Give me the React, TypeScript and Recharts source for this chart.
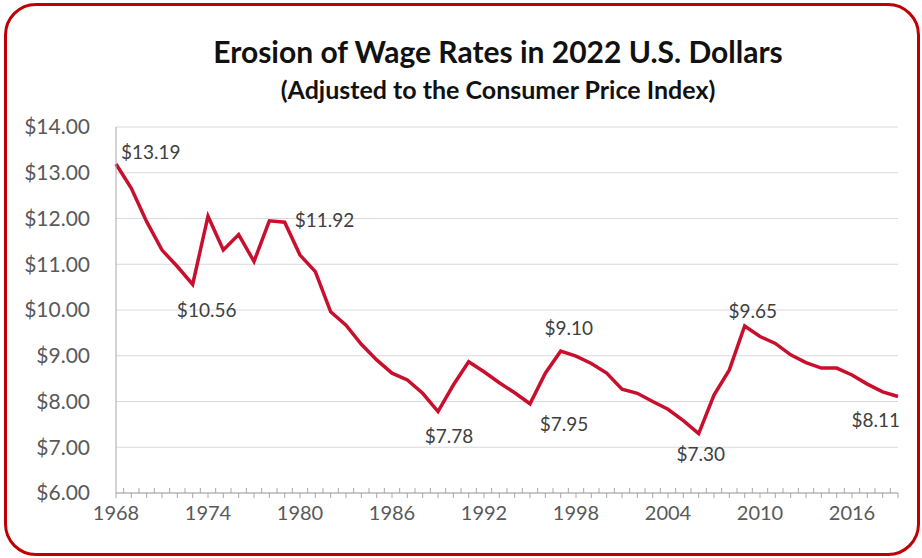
import React from 'react';
import { LineChart, Line, XAxis, YAxis, CartesianGrid, LabelList } from 'recharts';

const years = [
  1968, 1969, 1970, 1971, 1972, 1973, 1974, 1975, 1976, 1977,
  1978, 1979, 1980, 1981, 1982, 1983, 1984, 1985, 1986, 1987,
  1988, 1989, 1990, 1991, 1992, 1993, 1994, 1995, 1996, 1997,
  1998, 1999, 2000, 2001, 2002, 2003, 2004, 2005, 2006, 2007,
  2008, 2009, 2010, 2011, 2012, 2013, 2014, 2015, 2016, 2017,
  2018, 2019,
];

const wages = [
  13.19, 12.66, 11.93, 11.31, 10.95, 10.56, 12.05, 11.31, 11.65, 11.06,
  11.95, 11.92, 11.2, 10.84, 9.96, 9.67, 9.25, 8.91, 8.62, 8.47,
  8.18, 7.78, 8.36, 8.87, 8.65, 8.41, 8.19, 7.95, 8.62, 9.1,
  8.99, 8.83, 8.62, 8.27, 8.18, 8.0, 7.83, 7.58, 7.3, 8.14,
  8.69, 9.65, 9.42, 9.27, 9.02, 8.85, 8.73, 8.73, 8.58, 8.38,
  8.21, 8.11,
];

const labeledYears = [1968, 1973, 1979, 1989, 1995, 1997, 2006, 2009, 2019];
const yTicks = [6, 7, 8, 9, 10, 11, 12, 13, 14];

const data = years.map((year, i) => ({ year, wage: wages[i] }));

// where each value label sits relative to its point
const labelPos: Record<number, { dx: number; dy: number; anchor: string }> = {
  1968: { dx: 5, dy: -5, anchor: 'start' },
  1973: { dx: 14, dy: 33, anchor: 'middle' },
  1979: { dx: 10, dy: 5, anchor: 'start' },
  1989: { dx: 11, dy: 31, anchor: 'middle' },
  1995: { dx: 34, dy: 27, anchor: 'middle' },
  1997: { dx: 8, dy: -16, anchor: 'middle' },
  2006: { dx: 2, dy: 27, anchor: 'middle' },
  2009: { dx: 8, dy: -8, anchor: 'middle' },
  2019: { dx: 2, dy: 31, anchor: 'end' },
};

const W = 922;
const H = 558;
const margin = { top: 127, right: 24, left: 10, bottom: 35 };
const yAxisWidth = 106;
const step = (W - margin.left - margin.right - yAxisWidth) / (years.length - 1);

const renderLabel = (props: any) => {
  const { x, y, value, index } = props;
  const yr = years[index];
  if (!labeledYears.includes(yr)) return null;
  const p = labelPos[yr];
  return (
    <text
      x={x + p.dx}
      y={y + p.dy}
      textAnchor={p.anchor as any}
      fill="#404040"
      fontSize={19}
    >
      {`$${Number(value).toFixed(2)}`}
    </text>
  );
};

const XTick = (props: any) => {
  const { x, y, payload, index } = props;
  const yr = payload.value;
  const showLabel = (yr - years[0]) % 6 === 0;
  return (
    <g>
      <line x1={x} y1={y} x2={x} y2={y + 5} stroke="#a6a6a6" />
      {index < years.length - 1 && (
        <line x1={x + step / 2} y1={y} x2={x + step / 2} y2={y - 5} stroke="#a6a6a6" />
      )}
      {showLabel && (
        <text x={x} y={y + 27} textAnchor="middle" fill="#595959" fontSize={20}>
          {yr}
        </text>
      )}
    </g>
  );
};

export default function App() {
  return (
    <div
      style={{
        position: 'absolute',
        left: 0,
        top: 0,
        width: W,
        height: H,
        background: '#fff',
        fontFamily: 'Lato, sans-serif',
        overflow: 'hidden',
      }}
    >
      <div
        style={{
          position: 'absolute',
          left: 4,
          top: 3,
          width: 916,
          height: 553,
          boxSizing: 'border-box',
          border: '3px solid #C00000',
          borderRadius: 32,
        }}
      />
      <div
        style={{
          position: 'absolute',
          left: 75,
          width: 846,
          top: 34,
          textAlign: 'center',
          fontWeight: 700,
          fontSize: 30,
          lineHeight: '34px',
          color: '#111',
        }}
      >
        Erosion of Wage Rates in 2022 U.S. Dollars
      </div>
      <div
        style={{
          position: 'absolute',
          left: 75,
          width: 846,
          top: 74,
          textAlign: 'center',
          fontWeight: 700,
          fontSize: 25,
          lineHeight: '30px',
          color: '#111',
        }}
      >
        (Adjusted to the Consumer Price Index)
      </div>
      <div style={{ position: 'absolute', left: 0, top: 0 }}>
        <LineChart width={W} height={H} data={data} margin={margin}>
          <CartesianGrid vertical={false} stroke="#d9d9d9" />
          <XAxis
            dataKey="year"
            interval={0}
            height={30}
            tickSize={0}
            tickMargin={0}
            tickLine={false}
            axisLine={{ stroke: '#a6a6a6' }}
            tick={<XTick />}
          />
          <YAxis
            domain={[6, 14]}
            ticks={yTicks}
            width={yAxisWidth}
            tickSize={0}
            tickMargin={26}
            tickLine={false}
            axisLine={{ stroke: '#a6a6a6' }}
            tick={{ fill: '#595959', fontSize: 21 }}
            tickFormatter={(v: number) => `$${v.toFixed(2)}`}
          />
          <Line
            type="linear"
            dataKey="wage"
            stroke="#C8102E"
            strokeWidth={3.5}
            dot={false}
            isAnimationActive={false}
          >
            <LabelList dataKey="wage" content={renderLabel} />
          </Line>
        </LineChart>
      </div>
    </div>
  );
}
